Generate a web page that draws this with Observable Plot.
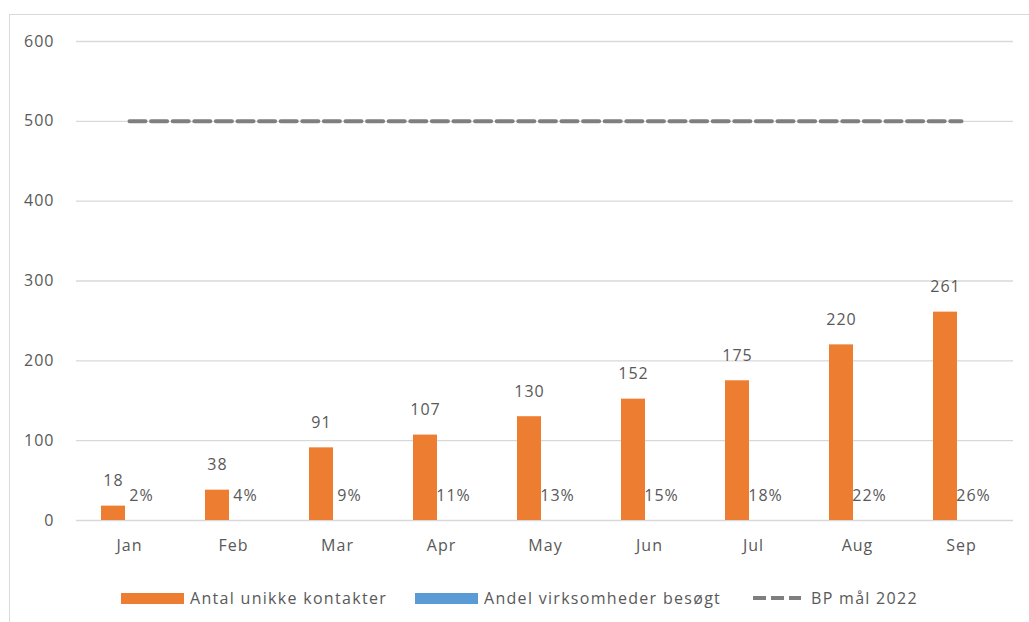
<!DOCTYPE html>
<html>
<head>
<meta charset="utf-8">
<script src="https://cdn.jsdelivr.net/npm/d3@7"></script>
<script src="https://cdn.jsdelivr.net/npm/@observablehq/plot@0.6"></script>
<style>
  html, body { margin: 0; padding: 0; background: #fff; }
  body { width: 1029px; height: 622px; position: relative; overflow: hidden; font-family: "Open Sans", sans-serif; }
  #box { position: absolute; left: 9px; top: 14px; width: 1030px; height: 620px; border: 1px solid #d9d9d9; box-sizing: border-box; }
  #chart { position: absolute; left: 0; top: 0; }
  #chart svg text { letter-spacing: 1px; }
  #legend { position: absolute; top: 572px; left: 0; width: 1030px; height: 30px; font-size: 16px; letter-spacing: 1.3px; color: #595959; }
  .item { position: absolute; top: 0; display: flex; align-items: center; height: 22px; white-space: nowrap; }
  .sw { display: inline-block; width: 63px; height: 11px; margin-right: 6px; }
</style>
</head>
<body>
<div id="box">
  <div id="chart"></div>
  <div id="legend"></div>
</div>
<script>
const months = ["Jan","Feb","Mar","Apr","May","Jun","Jul","Aug","Sep"];
const contacts = [18, 38, 91, 107, 130, 152, 175, 220, 261];
const shareVisited = [2, 4, 9, 11, 13, 15, 18, 22, 26];
const target = [500, 500, 500, 500, 500, 500, 500, 500, 500];
const yTicks = [0, 100, 200, 300, 400, 500, 600];
const seriesNames = ["Antal unikke kontakter", "Andel virksomheder besøgt", "BP mål 2022"];
const colors = ["#ED7D31", "#5B9BD5", "#7F7F7F"];

const rows = months.map((m, i) => ({month: m, contacts: contacts[i], share: shareVisited[i], target: target[i]}));

const chart = Plot.plot({
  width: 1012,
  height: 560,
  marginTop: 26,
  marginBottom: 55,
  marginLeft: 66,
  marginRight: 9,
  style: {fontFamily: "'Open Sans', sans-serif", fontSize: "16px", color: "#595959", background: "transparent"},
  x: {domain: months, padding: 0, label: null, tickSize: 0, tickPadding: 19},
  y: {domain: [0, 600], ticks: yTicks, label: null, tickSize: 0, tickPadding: 22, grid: false},
  marks: [
    Plot.ruleY(yTicks, {stroke: "#d9d9d9", strokeWidth: 1.3}),
    Plot.barY(rows, {x: "month", y: "contacts", fill: colors[0], insetLeft: 24, insetRight: 56}),
    Plot.lineY(rows, {x: "month", y: "target", stroke: colors[2], strokeWidth: 4, strokeDasharray: "16,5.6"}),
    Plot.text(rows, {x: "month", y: "contacts", text: d => String(d.contacts), dx: -16, dy: -25, fill: "#595959", fontSize: 16}),
    Plot.text(rows, {x: "month", y: 0, text: d => d.share + "%", dx: 12, dy: -25, fill: "#595959", fontSize: 16})
  ]
});
document.getElementById("chart").appendChild(chart);

const legend = document.getElementById("legend");
const items = [
  {x: 111, name: seriesNames[0], kind: "bar", color: colors[0]},
  {x: 405, name: seriesNames[1], kind: "bar", color: colors[1]},
  {x: 743, name: seriesNames[2], kind: "dash", color: colors[2]}
];
items.forEach(it => {
  const el = document.createElement("div");
  el.className = "item";
  el.style.left = it.x + "px";
  const sw = document.createElement("span");
  if (it.kind === "bar") {
    sw.className = "sw";
    sw.style.background = it.color;
  } else {
    sw.style.display = "inline-block";
    sw.style.width = "48px";
    sw.style.height = "4px";
    sw.style.marginRight = "10px";
    sw.style.background = `repeating-linear-gradient(90deg, ${it.color} 0 13px, transparent 13px 18px)`;
  }
  el.appendChild(sw);
  const t = document.createElement("span");
  t.textContent = it.name;
  el.appendChild(t);
  legend.appendChild(el);
});
</script>
</body>
</html>
